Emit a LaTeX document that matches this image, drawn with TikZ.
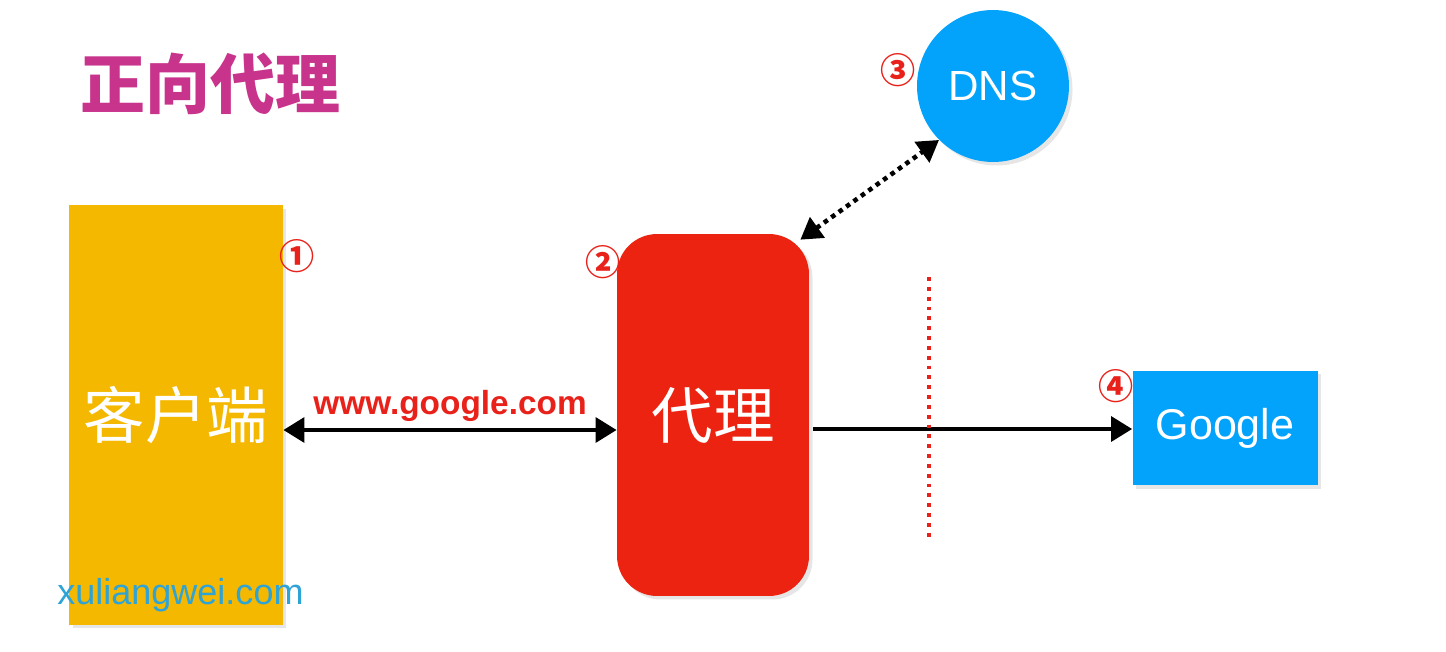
\documentclass[tikz,border=0pt]{standalone}
\usepackage{fontspec}
\setmainfont{Liberation Sans}
\newfontfamily\cjk{Noto Sans CJK SC}
\usetikzlibrary{arrows.meta,shadows,positioning}

\definecolor{clientcol}{HTML}{F4B800}
\definecolor{proxycol}{HTML}{EC2310}
\definecolor{dnscol}{HTML}{03A2FB}
\definecolor{titlecol}{HTML}{C8338C}
\definecolor{markcol}{HTML}{2EA3D6}
\definecolor{numcol}{HTML}{E8221A}

\tikzset{
  box/.style={draw=none, inner sep=0pt, text=white,
    drop shadow={opacity=0.2, shadow xshift=2pt, shadow yshift=-2pt}},
  num/.style={text=numcol, font=\cjk\bfseries\fontsize{20}{20}\selectfont, inner sep=0pt},
  link/.style={line width=2.6pt, {Triangle[length=12pt,width=14pt]}-{Triangle[length=12pt,width=14pt]}}
}

\begin{document}
\begin{tikzpicture}[x=0.02cm, y=-0.02cm]
  \useasboundingbox (0,0) rectangle (1446,652);

  % Title
  \node[text=titlecol, font=\cjk\bfseries\fontsize{37}{37}\selectfont, anchor=west] (title) at (74,84) {正向代理};

  % Define nodes
  \node[box, fill=clientcol, minimum width=4.28cm, minimum height=8.4cm,
    font=\cjk\fontsize{35}{35}\selectfont] (client) at (176,415) {客户端};
  \node[box, fill=proxycol, rounded corners=0.8cm, minimum width=3.84cm, minimum height=7.24cm,
    font=\cjk\fontsize{35}{35}\selectfont] (proxy) at (713,415) {代理};
  \node[box, circle, fill=dnscol, minimum size=3.04cm,
    font=\fontsize{24}{24}\selectfont] (dns) at (993,86) {DNS};
  \node[box, fill=dnscol, minimum width=3.7cm, minimum height=2.3cm,
    font=\fontsize{24.5}{24.5}\selectfont] (google) at (1225,428) {Google};

  % Step numbers
  \node[num] (n1) at (297,256) {①};
  \node[num] (n2) at (603,262) {②};
  \node[num] (n3) at (898,70) {③};
  \node[num] (n4) at (1116,386) {④};

  % Watermark
  \node[text=markcol, font=\fontsize{20.5}{20.5}\selectfont, anchor=west, inner sep=0pt] (mark) at (57,595) {xuliangwei.com};

  % Draw arrows
  \draw[link] (client.east |- 0,430) -- node[above=0pt, text=numcol, font=\bfseries\fontsize{19}{19}\selectfont] (url) {www.google.com} (proxy.west |- 0,430);
  \draw[link, -{Triangle[length=12pt,width=14pt]}] ([xshift=2pt]proxy.east |- 0,429) -- (google.west |- 0,429);
  \draw[link, dash pattern=on 2.6pt off 2.6pt] ([shift={(-9,6)}]proxy.north east) -- (dns.225);

  % Firewall line
  \coordinate (wallTop) at (929,277);
  \coordinate (wallBot) at (929,540);
  \draw[numcol, line width=2.2pt, dash pattern=on 2.2pt off 3.4pt] (wallTop) -- (wallBot);
\end{tikzpicture}
\end{document}
